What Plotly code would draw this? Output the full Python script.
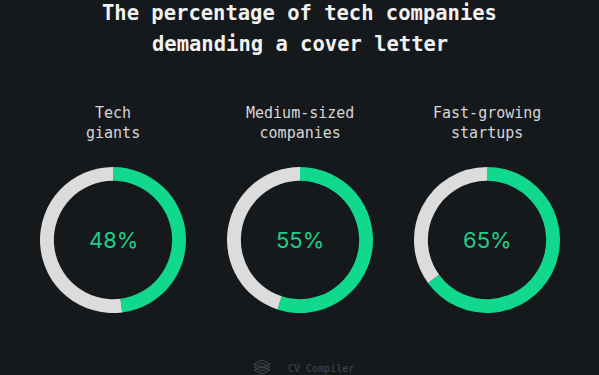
import plotly.graph_objects as go

title_lines = ["The percentage of tech companies", "demanding a cover letter"]
categories = ["Tech<br>giants", "Medium-sized<br>companies", "Fast-growing<br>startups"]
share_pct = [48, 55, 65]
footer_text = "CV Compiler"

BG = "#16191c"
GREEN = "#10d98d"
GREY = "#dcdcdc"

W, H = 599, 375
centers_px = [113, 300, 487]
cy_px = 240
r_px = 73

fig = go.Figure()
for i, (cat, v) in enumerate(zip(categories, share_pct)):
    cx = centers_px[i]
    fig.add_trace(go.Pie(
        values=[v, 100 - v],
        labels=["Yes", "No"],
        marker=dict(colors=[GREEN, GREY], line=dict(width=0)),
        hole=0.81,
        sort=False,
        direction="clockwise",
        rotation=0,
        textinfo="none",
        hoverinfo="skip",
        showlegend=False,
        domain=dict(x=[(cx - r_px) / W, (cx + r_px) / W],
                    y=[1 - (cy_px + r_px) / H, 1 - (cy_px - r_px) / H]),
    ))
    fig.add_annotation(x=cx / W, y=1 - cy_px / H, xref="paper", yref="paper",
                       xanchor="center", yanchor="middle",
                       text=f"{v}%", showarrow=False,
                       font=dict(family="Inter, Roboto, sans-serif", size=22, color="#1fcf88"))
    fig.add_annotation(x=cx / W, y=1 - 123 / H, xref="paper", yref="paper",
                       xanchor="center", yanchor="middle",
                       text=cat, showarrow=False, align="center",
                       font=dict(family="DejaVu Sans Mono, monospace", size=15, color="#d6d6d6"))

for j, (line, ypx) in enumerate(zip(title_lines, [13, 44])):
    fig.add_annotation(x=0.5, y=1 - ypx / H, xref="paper", yref="paper",
                       xanchor="center", yanchor="middle",
                       text="<b>" + line + "</b>", showarrow=False, align="center",
                       font=dict(family="DejaVu Sans Mono, monospace", size=20.5, color="#f2f2f2"))

fig.add_annotation(x=286 / W, y=1 - 368 / H, xref="paper", yref="paper",
                   xanchor="left", yanchor="middle",
                   text=footer_text, showarrow=False,
                   font=dict(family="DejaVu Sans Mono, monospace", size=10, color="#45484b"))

# small stacked logo icon
for dy in [0, 3, 6]:
    fig.add_shape(type="path", xref="paper", yref="paper",
                  path=(f"M {254/W} {1-(364+dy)/H} L {262/W} {1-(360+dy)/H} "
                        f"L {270/W} {1-(364+dy)/H} L {262/W} {1-(368+dy)/H} Z"),
                  line=dict(color="#45484b", width=1))

fig.update_layout(
    width=W, height=H,
    margin=dict(l=0, r=0, t=0, b=0),
    paper_bgcolor=BG, plot_bgcolor=BG,
)

fig.write_html("out.html", config={"displayModeBar": False},
               post_script="document.body.style.margin='0';")
